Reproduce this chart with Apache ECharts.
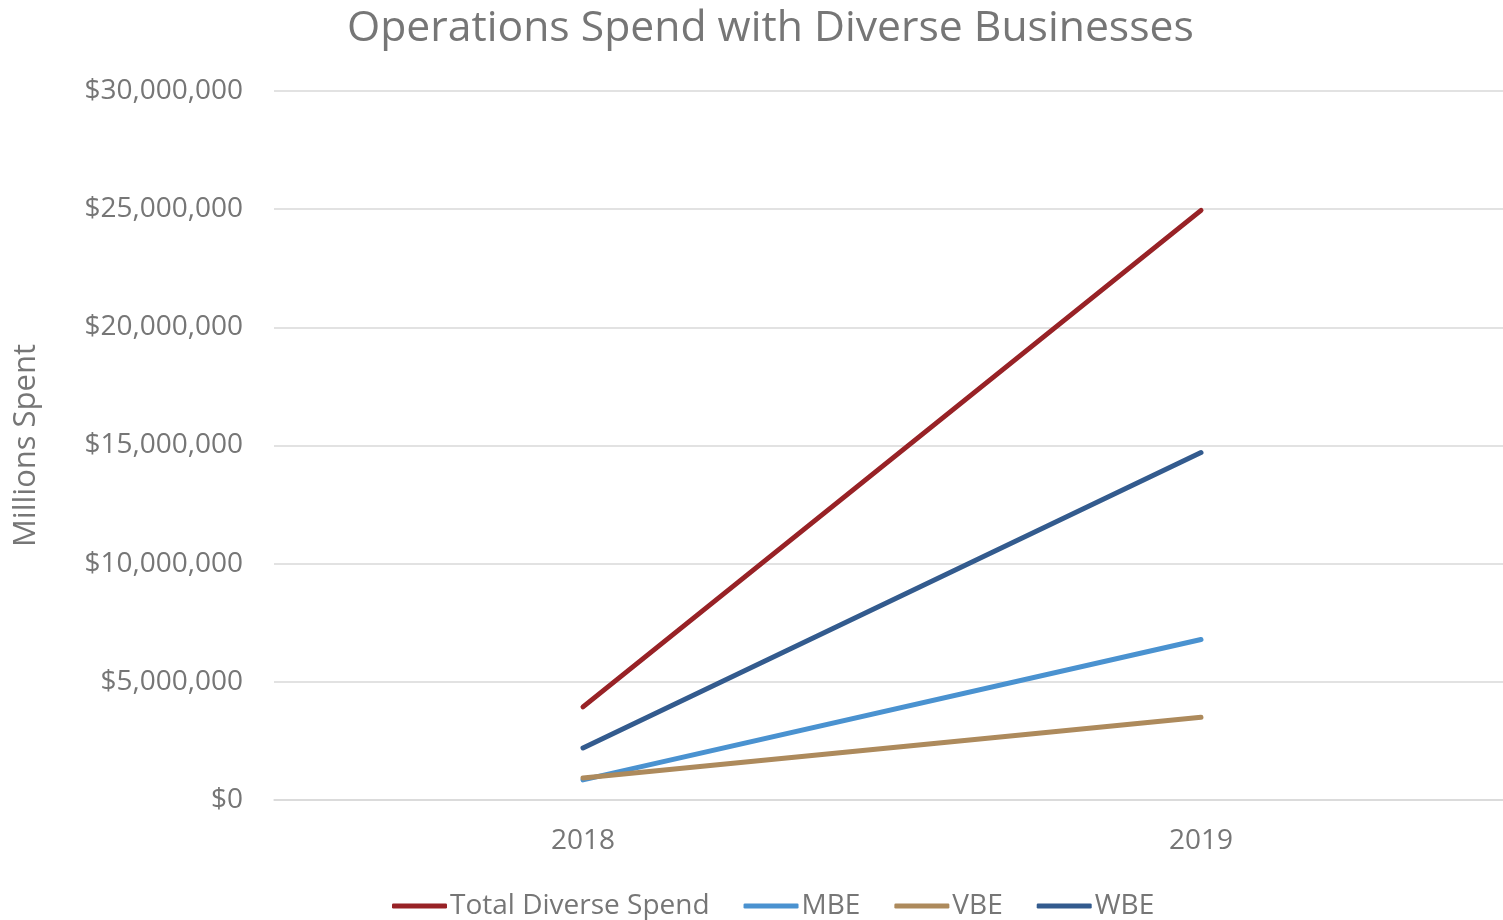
<!DOCTYPE html>
<html>
<head>
<meta charset="utf-8">
<style>
  html, body { margin: 0; padding: 0; background: #fff; overflow: hidden; }
  #chart { width: 1520px; height: 920px; }
</style>
<script src="https://cdn.jsdelivr.net/npm/echarts@6/dist/echarts.min.js"></script>
</head>
<body>
<div id="chart"></div>
<script>
// Fiscal years on the category axis
const years = ['2018', '2019'];

// Spend per category, in dollars
const totalDiverse = [3940000, 24950000];
const mbe = [850000, 6790000];
const vbe = [930000, 3500000];
const wbe = [2200000, 14700000];

// Value axis ticks
const yMin = 0;
const yMax = 30000000;
const yStep = 5000000;

const SANS = '"Open Sans", sans-serif';
const GREY = '#767676';

const chart = echarts.init(document.getElementById('chart'));

function money(v) {
  return '$' + Math.round(v).toString().replace(/\B(?=(\d{3})+(?!\d))/g, ',');
}

function lineSeries(name, data, color) {
  return {
    name: name,
    type: 'line',
    data: data,
    symbol: 'none',
    color: color,
    lineStyle: { width: 5, color: color, cap: 'round', join: 'round' },
    emphasis: { disabled: true }
  };
}

chart.setOption({
  animation: false,
  backgroundColor: '#ffffff',
  title: {
    text: 'Operations Spend with Diverse Businesses',
    left: 342,
    top: 2,
    textStyle: { fontFamily: SANS, fontSize: 42.7, fontWeight: 'normal', color: GREY }
  },
  legend: {
    left: 387,
    top: 887,
    icon: 'roundRect',
    itemWidth: 55,
    itemHeight: 5,
    itemGap: 34,
    textStyle: { fontFamily: SANS, fontSize: 28, color: GREY, padding: [0, 0, 0, -2] },
    data: ['Total Diverse Spend', 'MBE', 'VBE', 'WBE']
  },
  grid: {
    left: 274,
    top: 91,
    width: 1236,
    height: 709,
    containLabel: false
  },
  xAxis: {
    type: 'category',
    data: years,
    boundaryGap: true,
    axisLine: { show: true, lineStyle: { color: '#d9d9d9', width: 1.5 } },
    axisTick: { show: false },
    axisLabel: { fontFamily: SANS, fontSize: 28, color: GREY, margin: 27 }
  },
  yAxis: {
    type: 'value',
    min: yMin,
    max: yMax,
    interval: yStep,
    name: 'Millions Spent',
    nameLocation: 'middle',
    nameGap: 232,
    nameTextStyle: { fontFamily: SANS, fontSize: 31, color: GREY },
    axisLine: { show: false },
    axisTick: { show: false },
    splitLine: { lineStyle: { color: '#d9d9d9', width: 1.5 } },
    axisLabel: { fontFamily: SANS, fontSize: 28, color: GREY, margin: 31, formatter: money }
  },
  series: [
    lineSeries('Total Diverse Spend', totalDiverse, '#982226'),
    lineSeries('MBE', mbe, '#4a92d0'),
    lineSeries('VBE', vbe, '#ad8a5c'),
    lineSeries('WBE', wbe, '#335b8e')
  ]
});
</script>
</body>
</html>
